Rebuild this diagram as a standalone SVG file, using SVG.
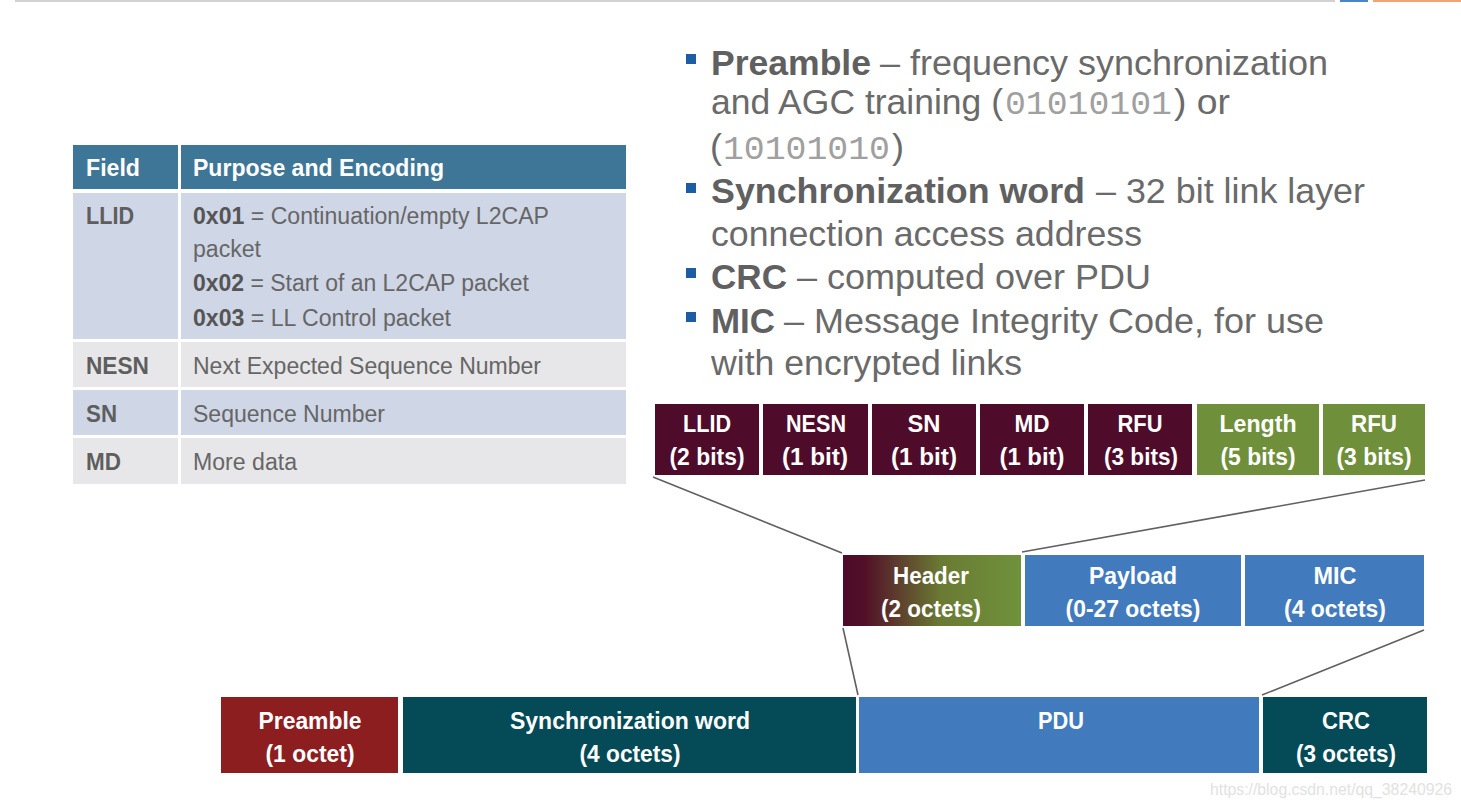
<svg xmlns="http://www.w3.org/2000/svg" width="1461" height="808" viewBox="0 0 1461 808">
<defs>
<linearGradient id="hdrGrad" x1="0" y1="0" x2="1" y2="0">
<stop offset="0" stop-color="#4e0b2a"/>
<stop offset="0.12" stop-color="#520f28"/>
<stop offset="0.55" stop-color="#6a7a33"/>
<stop offset="1" stop-color="#6f923c"/>
</linearGradient>
<style>
.bx{font-family:"Liberation Sans Narrow","Liberation Sans",Arial,sans-serif;font-weight:bold;font-size:24px;fill:#ffffff;text-anchor:middle}
.th{font-family:"Liberation Sans Narrow","Liberation Sans",Arial,sans-serif;font-weight:bold;font-size:23px;fill:#ffffff}
.tf{font-family:"Liberation Sans Narrow","Liberation Sans",Arial,sans-serif;font-weight:bold;font-size:23px;fill:#5e5e5e}
.td{font-family:"Liberation Sans Narrow","Liberation Sans",Arial,sans-serif;font-size:23px;fill:#666666}
.tdb{font-weight:bold;fill:#555555}
.bl{font-family:"Liberation Sans",Arial,sans-serif;font-size:35px;fill:#6a6a6a}
.blb{font-weight:bold;fill:#606060}
.mono{font-family:"Liberation Mono","Courier New",monospace;font-size:34px;fill:#a0a0a0}
.ln{stroke:#606060;stroke-width:1.6;fill:none}
.maroon{fill:#4e0b2a}
.green{fill:#6f8f3a}
.blue{fill:#427bbd}
.teal{fill:#044b57}
.red{fill:#8c1e20}
.sq{fill:#1c5da3}
</style>
</defs>
<rect x="0" y="0" width="1461" height="808" fill="#ffffff"/>
<!-- top strip -->
<rect x="15" y="0" width="1320" height="2" fill="#d2d2d2"/>
<rect x="1340" y="0" width="28" height="2" fill="#4a86c5"/>
<rect x="1373" y="0" width="88" height="2" fill="#f2a274"/>

<!-- table -->
<g id="table">
<rect x="73" y="145" width="105" height="44" fill="#3e7697"/>
<rect x="181" y="145" width="445" height="44" fill="#3e7697"/>
<text class="th" x="86" y="176" textLength="54" lengthAdjust="spacingAndGlyphs">Field</text>
<text class="th" x="193" y="176" textLength="251" lengthAdjust="spacingAndGlyphs">Purpose and Encoding</text>

<rect x="73" y="193" width="105" height="146" fill="#cfd6e6"/>
<rect x="181" y="193" width="445" height="146" fill="#cfd6e6"/>
<text class="tf" x="86" y="224" textLength="48" lengthAdjust="spacingAndGlyphs">LLID</text>
<text class="td" x="193" y="224" textLength="356" lengthAdjust="spacingAndGlyphs"><tspan class="tdb">0x01</tspan> = Continuation/empty L2CAP</text>
<text class="td" x="193" y="257" textLength="68" lengthAdjust="spacingAndGlyphs">packet</text>
<text class="td" x="193" y="291" textLength="336" lengthAdjust="spacingAndGlyphs"><tspan class="tdb">0x02</tspan> = Start of an L2CAP packet</text>
<text class="td" x="193" y="326" textLength="258" lengthAdjust="spacingAndGlyphs"><tspan class="tdb">0x03</tspan> = LL Control packet</text>

<rect x="73" y="342" width="105" height="45" fill="#e7e7e9"/>
<rect x="181" y="342" width="445" height="45" fill="#e7e7e9"/>
<text class="tf" x="86" y="374" textLength="63" lengthAdjust="spacingAndGlyphs">NESN</text>
<text class="td" x="193" y="374" textLength="348" lengthAdjust="spacingAndGlyphs">Next Expected Sequence Number</text>

<rect x="73" y="390" width="105" height="45" fill="#cfd6e6"/>
<rect x="181" y="390" width="445" height="45" fill="#cfd6e6"/>
<text class="tf" x="86" y="422" textLength="31" lengthAdjust="spacingAndGlyphs">SN</text>
<text class="td" x="193" y="422" textLength="192" lengthAdjust="spacingAndGlyphs">Sequence Number</text>

<rect x="73" y="438" width="105" height="46" fill="#e7e7e9"/>
<rect x="181" y="438" width="445" height="46" fill="#e7e7e9"/>
<text class="tf" x="86" y="470" textLength="35" lengthAdjust="spacingAndGlyphs">MD</text>
<text class="td" x="193" y="470" textLength="104" lengthAdjust="spacingAndGlyphs">More data</text>
</g>

<!-- bullets -->
<g id="bullets">
<rect class="sq" x="686" y="54" width="10" height="10"/>
<text class="bl" x="711" y="75"><tspan class="blb" textLength="160" lengthAdjust="spacingAndGlyphs">Preamble</tspan><tspan x="880" textLength="448" lengthAdjust="spacingAndGlyphs">– frequency synchronization</tspan></text>
<text class="bl" x="711" y="114" textLength="292" lengthAdjust="spacingAndGlyphs">and AGC training (</text>
<text class="mono" x="1005" y="114" textLength="167" lengthAdjust="spacingAndGlyphs">01010101</text>
<text class="bl" x="1174" y="114" textLength="56" lengthAdjust="spacingAndGlyphs">) or</text>
<text class="bl" x="710" y="159" textLength="12" lengthAdjust="spacingAndGlyphs">(</text>
<text class="mono" x="723" y="159" textLength="167" lengthAdjust="spacingAndGlyphs">10101010</text>
<text class="bl" x="892" y="159" textLength="12" lengthAdjust="spacingAndGlyphs">)</text>

<rect class="sq" x="686" y="183" width="10" height="10"/>
<text class="bl" x="711" y="203"><tspan class="blb" textLength="374" lengthAdjust="spacingAndGlyphs">Synchronization word</tspan><tspan x="1096" textLength="269" lengthAdjust="spacingAndGlyphs">– 32 bit link layer</tspan></text>
<text class="bl" x="711" y="246" textLength="431" lengthAdjust="spacingAndGlyphs">connection access address</text>

<rect class="sq" x="686" y="268" width="10" height="10"/>
<text class="bl" x="711" y="289"><tspan class="blb" textLength="76" lengthAdjust="spacingAndGlyphs">CRC</tspan><tspan x="797" textLength="354" lengthAdjust="spacingAndGlyphs">– computed over PDU</tspan></text>

<rect class="sq" x="686" y="312" width="10" height="10"/>
<text class="bl" x="711" y="333"><tspan class="blb" textLength="64" lengthAdjust="spacingAndGlyphs">MIC</tspan><tspan x="784" textLength="540" lengthAdjust="spacingAndGlyphs">– Message Integrity Code, for use</tspan></text>
<text class="bl" x="711" y="375" textLength="311" lengthAdjust="spacingAndGlyphs">with encrypted links</text>
</g>

<!-- connectors -->
<g id="connectors">
<line class="ln" x1="653" y1="477" x2="842" y2="553"/>
<line class="ln" x1="1425" y1="480" x2="1022" y2="552"/>
<line class="ln" x1="843" y1="628" x2="858" y2="695"/>
<line class="ln" x1="1424" y1="630" x2="1262" y2="695"/>
</g>

<!-- row 1: header bits -->
<g id="llid"><rect class="maroon" x="655" y="404" width="104" height="71"/>
<text class="bx" x="707" y="432" textLength="48" lengthAdjust="spacingAndGlyphs">LLID</text>
<text class="bx" x="707" y="465" textLength="75" lengthAdjust="spacingAndGlyphs">(2 bits)</text></g>
<g id="nesn"><rect class="maroon" x="763" y="404" width="105" height="71"/>
<text class="bx" x="816" y="432" textLength="60" lengthAdjust="spacingAndGlyphs">NESN</text>
<text class="bx" x="815" y="465" textLength="66" lengthAdjust="spacingAndGlyphs">(1 bit)</text></g>
<g id="sn"><rect class="maroon" x="872" y="404" width="104" height="71"/>
<text class="bx" x="924" y="432" textLength="33" lengthAdjust="spacingAndGlyphs">SN</text>
<text class="bx" x="924" y="465" textLength="66" lengthAdjust="spacingAndGlyphs">(1 bit)</text></g>
<g id="md"><rect class="maroon" x="980" y="404" width="104" height="71"/>
<text class="bx" x="1032" y="432" textLength="35" lengthAdjust="spacingAndGlyphs">MD</text>
<text class="bx" x="1032" y="465" textLength="65" lengthAdjust="spacingAndGlyphs">(1 bit)</text></g>
<g id="rfu1"><rect class="maroon" x="1088" y="404" width="104" height="71"/>
<text class="bx" x="1140" y="432" textLength="45" lengthAdjust="spacingAndGlyphs">RFU</text>
<text class="bx" x="1141" y="465" textLength="74" lengthAdjust="spacingAndGlyphs">(3 bits)</text></g>
<g id="length"><rect class="green" x="1197" y="404" width="122" height="71"/>
<text class="bx" x="1258" y="432" textLength="77" lengthAdjust="spacingAndGlyphs">Length</text>
<text class="bx" x="1258" y="465" textLength="75" lengthAdjust="spacingAndGlyphs">(5 bits)</text></g>
<g id="rfu2"><rect class="green" x="1323" y="404" width="102" height="71"/>
<text class="bx" x="1374" y="432" textLength="46" lengthAdjust="spacingAndGlyphs">RFU</text>
<text class="bx" x="1374" y="465" textLength="75" lengthAdjust="spacingAndGlyphs">(3 bits)</text></g>

<!-- row 2: PDU -->
<g id="header"><rect x="843" y="555" width="178" height="71" fill="url(#hdrGrad)"/>
<text class="bx" x="931" y="584" textLength="76" lengthAdjust="spacingAndGlyphs">Header</text>
<text class="bx" x="931" y="617" textLength="100" lengthAdjust="spacingAndGlyphs">(2 octets)</text></g>
<g id="payload"><rect class="blue" x="1025" y="555" width="216" height="71"/>
<text class="bx" x="1133" y="584" textLength="88" lengthAdjust="spacingAndGlyphs">Payload</text>
<text class="bx" x="1133" y="617" textLength="135" lengthAdjust="spacingAndGlyphs">(0-27 octets)</text></g>
<g id="mic"><rect class="blue" x="1245" y="555" width="179" height="71"/>
<text class="bx" x="1335" y="584" textLength="43" lengthAdjust="spacingAndGlyphs">MIC</text>
<text class="bx" x="1335" y="617" textLength="102" lengthAdjust="spacingAndGlyphs">(4 octets)</text></g>

<!-- row 3: packet -->
<g id="preamble"><rect class="red" x="221" y="697" width="177" height="76"/>
<text class="bx" x="310" y="729" textLength="103" lengthAdjust="spacingAndGlyphs">Preamble</text>
<text class="bx" x="310" y="762" textLength="89" lengthAdjust="spacingAndGlyphs">(1 octet)</text></g>
<g id="syncword"><rect class="teal" x="403" y="697" width="453" height="76"/>
<text class="bx" x="630" y="729" textLength="240" lengthAdjust="spacingAndGlyphs">Synchronization word</text>
<text class="bx" x="630" y="762" textLength="101" lengthAdjust="spacingAndGlyphs">(4 octets)</text></g>
<g id="pdu"><rect class="blue" x="859" y="697" width="400" height="76"/>
<text class="bx" x="1061" y="729" textLength="46" lengthAdjust="spacingAndGlyphs">PDU</text></g>
<g id="crc"><rect class="teal" x="1263" y="697" width="164" height="76"/>
<text class="bx" x="1346" y="729" textLength="48" lengthAdjust="spacingAndGlyphs">CRC</text>
<text class="bx" x="1346" y="762" textLength="100" lengthAdjust="spacingAndGlyphs">(3 octets)</text></g>

<text x="1210" y="795" font-family="'Liberation Sans',Arial,sans-serif" font-size="16" fill="#e2e2e2" textLength="242" lengthAdjust="spacingAndGlyphs">https://blog.csdn.net/qq_38240926</text>
</svg>
